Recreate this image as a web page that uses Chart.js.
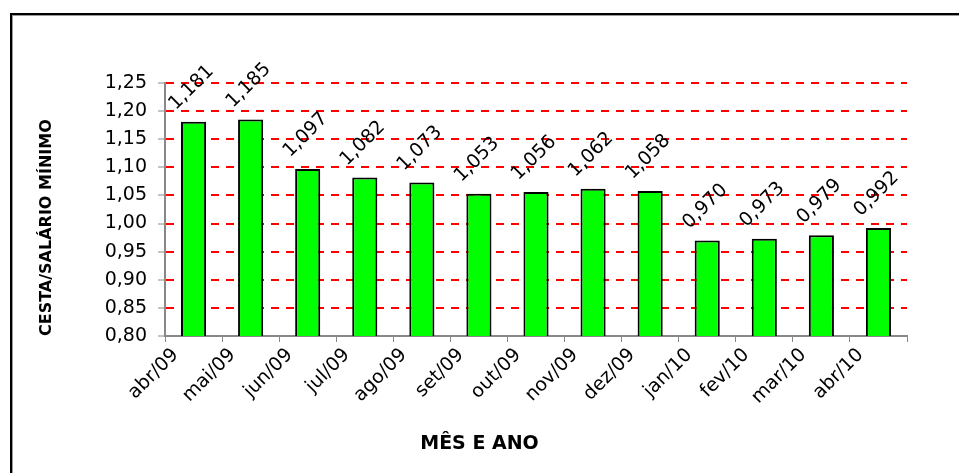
<!DOCTYPE html>
<html>
<head>
<meta charset="utf-8">
<script src="https://cdn.jsdelivr.net/npm/chart.js@4.4.1/dist/chart.umd.min.js"></script>
<style>
  body { margin: 0; background: #fff; overflow: hidden; }
  #wrap { position: relative; width: 959px; height: 473px; }
  #frame {
    position: absolute; left: 10px; top: 13px; width: 1000px; height: 1000px;
    border-left: 2px solid #000; border-top: 2px solid #000;
    box-shadow: 1px 1px 0 #999 inset; pointer-events: none;
  }
</style>
</head>
<body>
<div id="wrap">
  <canvas id="chart" width="959" height="473"></canvas>
  <div id="frame"></div>
</div>
<script>
const MONTHS = [
  "abr/09", "mai/09", "jun/09", "jul/09", "ago/09", "set/09", "out/09",
  "nov/09", "dez/09", "jan/10", "fev/10", "mar/10", "abr/10",
];
const RATIO = [
  1.181, 1.185, 1.097, 1.082, 1.073, 1.053, 1.056,
  1.062, 1.058, 0.970, 0.973, 0.979, 0.992,
];
const Y_MIN = 0.8;
const Y_MAX = 1.25;
const Y_STEP = 0.05;
const X_TITLE = "MÊS E ANO";
const Y_TITLE = "CESTA/SALÁRIO MÍNIMO";

const FONT = "'DejaVu Sans', sans-serif";
const toComma = (v, digits) => v.toFixed(digits).replace(".", ",");

// rotated value labels above each bar + x title centred on the frame
const valueLabels = {
  id: "valueLabels",
  afterDatasetsDraw(chart) {
    const ctx = chart.ctx;
    const meta = chart.getDatasetMeta(0);
    ctx.save();
    ctx.font = `19px ${FONT}`;
    ctx.fillStyle = "#000";
    ctx.textAlign = "center";
    ctx.textBaseline = "middle";
    meta.data.forEach((bar, i) => {
      ctx.save();
      ctx.translate(bar.x - 2, bar.y - 34);
      ctx.rotate(-Math.PI / 4);
      ctx.fillText(toComma(RATIO[i], 3), 0, 0);
      ctx.restore();
    });
    ctx.restore();
  },
  afterDraw(chart) {
    const ctx = chart.ctx;
    ctx.save();
    ctx.font = `bold 19px ${FONT}`;
    ctx.fillStyle = "#000";
    ctx.textAlign = "center";
    ctx.textBaseline = "middle";
    ctx.fillText(X_TITLE, chart.width / 2, 444);
    ctx.restore();
  },
};

const chart_config = {
  type: "bar",
  data: {
    labels: MONTHS,
    datasets: [
      {
        label: "Cesta/Salário mínimo",
        data: RATIO,
        backgroundColor: "#00ff00",
        borderColor: "#000000",
        borderWidth: 2,
        borderSkipped: false,
        categoryPercentage: 1,
        barPercentage: 0.44,
      },
    ],
  },
  options: {
    responsive: false,
    animation: false,
    devicePixelRatio: 1,
    layout: { padding: { top: 83, right: 52, left: 0, bottom: 0 } },
    plugins: {
      legend: { display: false },
      tooltip: { enabled: false },
    },
    scales: {
      x: {
        afterFit: (scale) => {
          scale.height = 137;
        },
        grid: {
          drawOnChartArea: false,
          tickLength: 6,
          color: "#888",
        },
        border: { color: "#888", width: 2 },
        ticks: {
          color: "#000",
          font: { family: FONT, size: 19 },
          maxRotation: 45,
          minRotation: 45,
          autoSkip: false,
          labelOffset: -18,
          padding: 2,
        },
      },
      y: {
        min: Y_MIN,
        max: Y_MAX,
        afterFit: (scale) => {
          scale.width = 165;
        },
        grid: {
          color: (c) =>
            c.tick && Math.abs(c.tick.value - Y_MIN) < 1e-6
              ? "rgba(0,0,0,0)"
              : "#ff0000",
          lineWidth: 2,
          tickLength: 7,
          tickColor: "#888",
          tickWidth: 1,
        },
        border: { color: "#888", width: 2, dash: [8, 7] },
        ticks: {
          stepSize: Y_STEP,
          color: "#000",
          font: { family: FONT, size: 19 },
          padding: 11,
          callback: (v) => toComma(v, 2),
        },
        title: {
          display: true,
          text: Y_TITLE,
          align: "start",
          color: "#000",
          font: { family: FONT, size: 16, weight: "bold" },
          padding: { top: 37, bottom: 0 },
        },
      },
    },
  },
  plugins: [valueLabels],
};

const chart = new Chart(document.getElementById("chart"), chart_config);
</script>
</body>
</html>
